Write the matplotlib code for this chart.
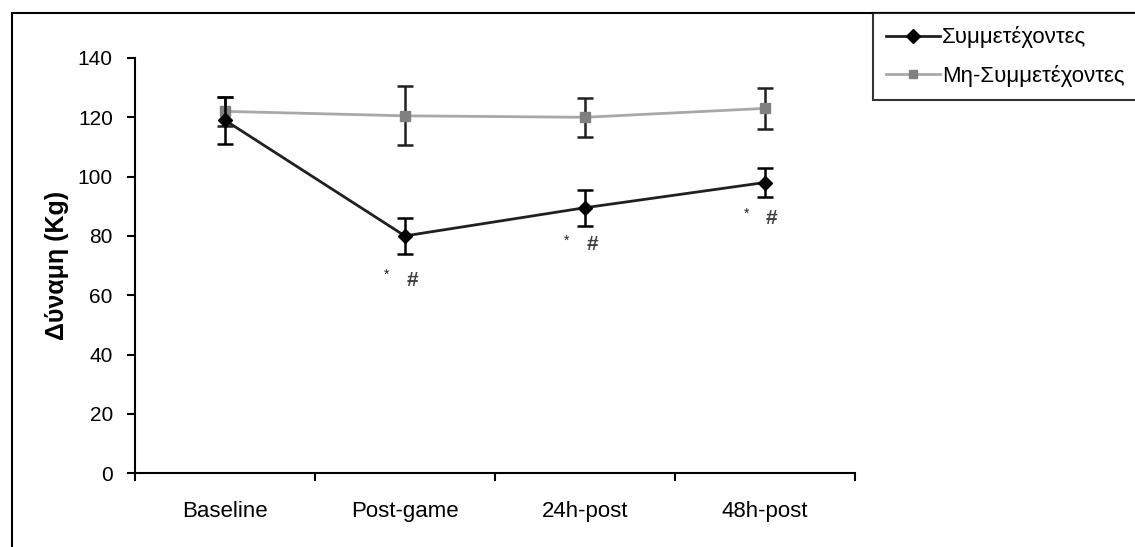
import numpy as np
import matplotlib.pyplot as plt
from matplotlib.patches import Rectangle
from matplotlib.lines import Line2D

plt.rcParams['font.family'] = ['Liberation Sans', 'DejaVu Sans']

# Δεδομένα (εκτίμηση από το γράφημα)
categories = ['Baseline', 'Post-game', '24h-post', '48h-post']
symm = [119, 80, 89.5, 98]
symm_err = [8, 6, 6, 5]
mi_symm = [122, 120.5, 120, 123]
mi_symm_err = [5, 10, 6.5, 7]
star_y = [None, 67, 78.5, 87.5]
hash_y = [None, 65, 77, 86]

x = np.arange(len(categories))

fig = plt.figure(figsize=(11.35, 5.47), dpi=100)
ax = fig.add_axes([0.119, 0.135, 0.634, 0.759])

# πλαίσιο γύρω από το γράφημα
fig.add_artist(Rectangle((12 / 1135, -0.1), 1.2, 1.1 - 13 / 547, transform=fig.transFigure,
                         fill=False, edgecolor='black', linewidth=1.5))

ax.errorbar(x, mi_symm, yerr=mi_symm_err, color='#a8a8a8', marker='s', markersize=7,
            markerfacecolor='#808080', markeredgecolor='#808080', linewidth=2,
            ecolor='#202020', elinewidth=1.8, capsize=6, capthick=1.8, zorder=2)
ax.errorbar(x, symm, yerr=symm_err, color='#202020', marker='D', markersize=7,
            markerfacecolor='black', markeredgecolor='black', linewidth=2,
            ecolor='black', elinewidth=1.8, capsize=6, capthick=1.8, zorder=3)

for i in range(1, len(categories)):
    ax.text(x[i] - 0.1, star_y[i], '*', fontsize=10, ha='center', va='center', color='#202020')
    ax.text(x[i] + 0.04, hash_y[i], '#', fontsize=15, ha='center', va='center',
            color='#404040', fontweight='bold')

ax.set_xlim(-0.5, 3.5)
ax.set_ylim(0, 140)
ax.set_yticks(range(0, 141, 20))
ax.set_xticks(np.arange(-0.5, 3.6, 1))
ax.set_xticklabels([])
ax.set_xticks(x, minor=True)
ax.set_xticklabels(categories, minor=True)
ax.tick_params(axis='x', which='minor', length=0, pad=20, labelsize=16)
ax.tick_params(axis='x', which='major', direction='out', length=6, width=1.5)
ax.tick_params(axis='y', direction='out', length=6, width=1.5, labelsize=15, pad=10)
for s in ['top', 'right']:
    ax.spines[s].set_visible(False)
for s in ['left', 'bottom']:
    ax.spines[s].set_linewidth(1.5)
ax.set_ylabel('Δύναμη (Kg)', fontsize=18, fontweight='bold', labelpad=6)

handles = [
    Line2D([], [], color='#202020', linewidth=2, marker='D', markersize=7,
           markerfacecolor='black', markeredgecolor='black'),
    Line2D([], [], color='#a8a8a8', linewidth=2, marker='s', markersize=6,
           markerfacecolor='#808080', markeredgecolor='#808080'),
]
labels = ['Συμμετέχοντες', 'Μη-Συμμετέχοντες']
leg = fig.legend(handles, labels, loc='upper left',
                 bbox_to_anchor=(873 / 1135, 1 - 13 / 547), fontsize=16,
                 frameon=True, fancybox=False, edgecolor='black', handlelength=2.4,
                 handletextpad=0.1, borderpad=0.6, labelspacing=0.75, borderaxespad=0)
leg.get_frame().set_linewidth(1.5)

fig.savefig('out.png', dpi=100)
